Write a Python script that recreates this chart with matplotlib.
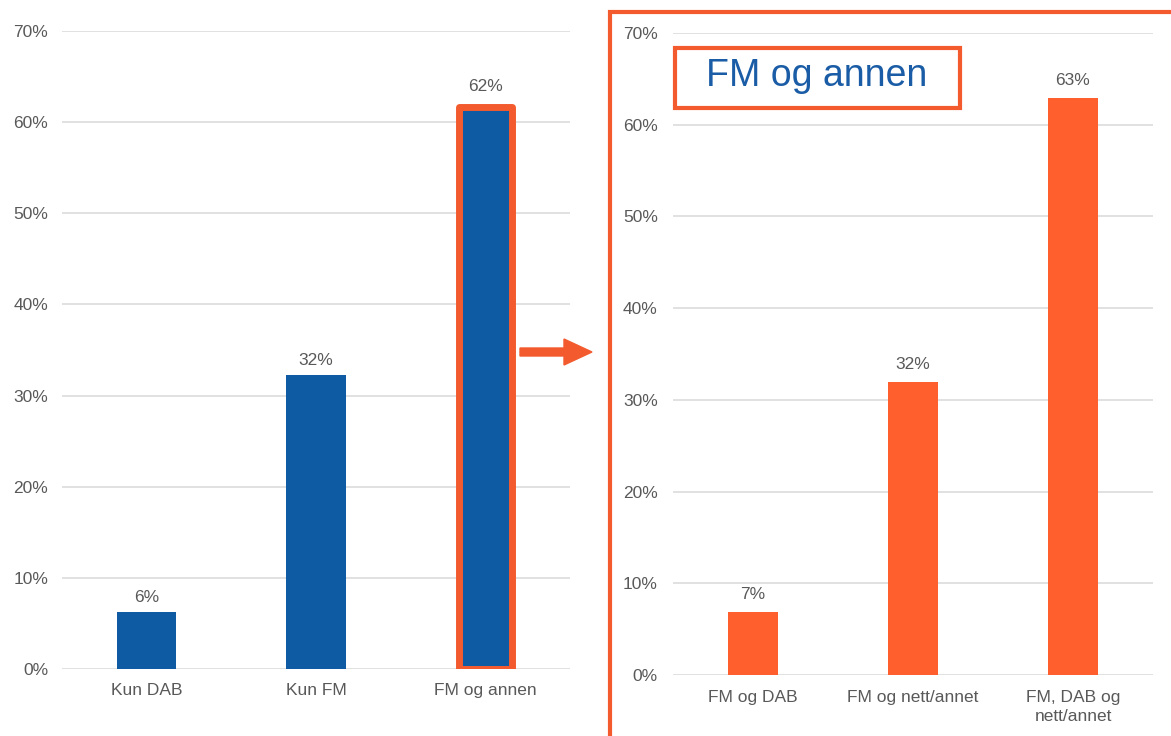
import matplotlib.pyplot as plt
from matplotlib.patches import Rectangle, FancyArrow

plt.rcParams['font.family'] = ['Liberation Sans', 'DejaVu Sans']

# data
left_cats = ['Kun DAB', 'Kun FM', 'FM og annen']
left_vals = [6.3, 32.3, 61.7]
left_labels = ['6%', '32%', '62%']

right_cats = ['FM og DAB', 'FM og nett/annet', 'FM, DAB og\nnett/annet']
right_vals = [6.9, 32.0, 62.9]
right_labels = ['7%', '32%', '63%']

yticks = [0, 10, 20, 30, 40, 50, 60, 70]
ytick_labels = ['0%', '10%', '20%', '30%', '40%', '50%', '60%', '70%']

BLUE = '#0E5BA3'
ORANGE = '#FF5E2D'
EDGE = '#F35B2F'
GRID = '#D9D9D9'
TXT = '#595959'
FS = 12.5

W, H = 1171, 736
fig = plt.figure(figsize=(W / 100, H / 100), dpi=100)


def style_axes(ax, cats, ypad, xpad):
    ax.set_ylim(0, 70)
    ax.set_xlim(-0.5, len(cats) - 0.5)
    ax.set_yticks(yticks)
    ax.set_yticklabels(ytick_labels)
    ax.set_xticks(range(len(cats)))
    ax.set_xticklabels(cats, linespacing=1.35)
    ax.grid(axis='y', color=GRID, linewidth=1.1)
    ax.set_axisbelow(True)
    for s in ax.spines.values():
        s.set_visible(False)
    ax.tick_params(axis='y', length=0, pad=ypad, labelsize=FS, labelcolor=TXT)
    ax.tick_params(axis='x', length=0, pad=xpad, labelsize=FS, labelcolor=TXT)


# left chart
ax1 = fig.add_axes([62 / W, 1 - 669 / H, 508 / W, 638 / H])
bars1 = ax1.bar(range(3), left_vals, width=[0.35, 0.35, 0.31], color=BLUE)
bars1[2].set_edgecolor(EDGE)
bars1[2].set_linewidth(5)
bars1[2].set_joinstyle('round')
for i, (v, lab) in enumerate(zip(left_vals, left_labels)):
    off = 9 if i == 2 else 5
    ax1.annotate(lab, (i, v), xytext=(0, off), textcoords='offset points',
                 ha='center', va='bottom', fontsize=FS, color=TXT)
style_axes(ax1, left_cats, 10, 10)

# right chart
ax2 = fig.add_axes([673 / W, 1 - 675 / H, 480 / W, 642 / H])
ax2.bar(range(3), right_vals, width=0.31, color=ORANGE)
for i, (v, lab) in enumerate(zip(right_vals, right_labels)):
    ax2.annotate(lab, (i, v), xytext=(0, 7), textcoords='offset points',
                 ha='center', va='bottom', fontsize=FS, color=TXT)
style_axes(ax2, right_cats, 11, 11)

# orange frame around right chart
fig.patches.append(Rectangle((610 / W, -0.02), 1.0, 1 - 12 / H + 0.02,
                             transform=fig.transFigure, fill=False,
                             edgecolor=EDGE, linewidth=3, zorder=5))

# title box
fig.patches.append(Rectangle((675 / W, 1 - 108 / H), 285 / W, 60 / H,
                             transform=fig.transFigure, fill=True, facecolor='white',
                             edgecolor=EDGE, linewidth=3, zorder=5))
fig.text(817 / W, 1 - 76 / H, 'FM og annen', ha='center', va='center',
         fontsize=27, color='#1A5CA6', zorder=6)

# arrow
fig.patches.append(FancyArrow(520 / W, 1 - 352 / H, 44 / W, 0,
                              width=8 / H, head_width=26 / H, head_length=28 / W,
                              length_includes_head=False, transform=fig.transFigure,
                              color=EDGE, zorder=5))

fig.savefig('out.png', dpi=100)
